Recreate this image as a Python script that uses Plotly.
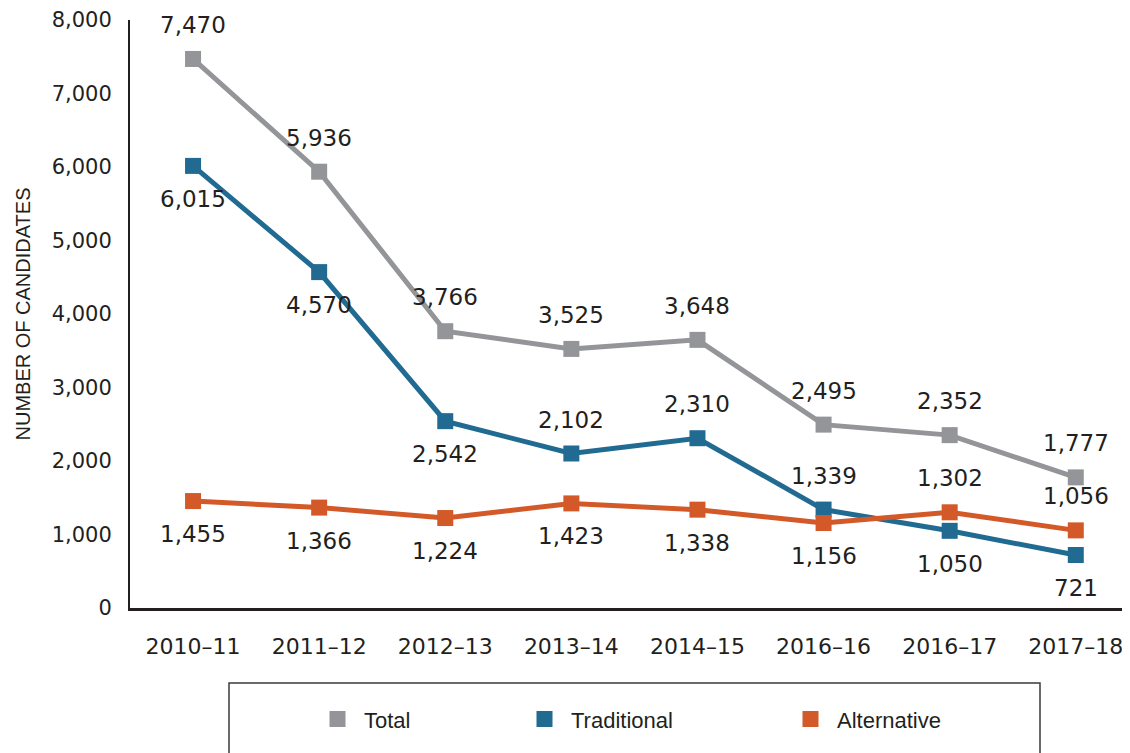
import plotly.graph_objects as go

years = ["2010–11", "2011–12", "2012–13", "2013–14", "2014–15", "2016–16", "2016–17", "2017–18"]
total = [7470, 5936, 3766, 3525, 3648, 2495, 2352, 1777]
traditional = [6015, 4570, 2542, 2102, 2310, 1339, 1050, 721]
alternative = [1455, 1366, 1224, 1423, 1338, 1156, 1302, 1056]

# label placement: +1 above the point, -1 below
total_pos = [1, 1, 1, 1, 1, 1, 1, 1]
trad_pos = [-1, -1, -1, 1, 1, 1, -1, -1]
alt_pos = [-1, -1, -1, -1, -1, -1, 1, 1]

GRAY = "#939598"
BLUE = "#216a92"
ORANGE = "#d35a28"
TXT = "#231f20"

series = [
    ("Total", total, total_pos, GRAY, "legend"),
    ("Traditional", traditional, trad_pos, BLUE, "legend2"),
    ("Alternative", alternative, alt_pos, ORANGE, "legend3"),
]

fig = go.Figure()
annotations = []
for name, vals, pos, color, leg in series:
    fig.add_trace(go.Scatter(
        x=years, y=vals, mode="lines+markers", name=name, showlegend=False,
        line=dict(color=color, width=5),
        marker=dict(symbol="square", size=16, color=color, line=dict(width=0)),
        hoverinfo="x+y",
    ))
    fig.add_trace(go.Scatter(
        x=[None], y=[None], mode="markers", name=name, legend=leg, showlegend=True,
        marker=dict(symbol="square", size=16, color=color, line=dict(width=0)),
    ))
    for x, v, p in zip(years, vals, pos):
        annotations.append(dict(
            x=x, y=v, xref="x", yref="y", text=f"{v:,}", showarrow=False,
            yshift=34 if p > 0 else -33,
            font=dict(family="DejaVu Sans", size=23, color=TXT),
        ))

# page body has an 8px margin, so the figure is 8px smaller than the window
fig.update_layout(
    width=1122, height=745,
    margin=dict(l=122, r=0, t=12, b=145),
    paper_bgcolor="white", plot_bgcolor="white",
    font=dict(family="DejaVu Sans", color=TXT),
    annotations=annotations,
    xaxis=dict(
        type="category", range=[-0.5, 7.43], showgrid=False, zeroline=False,
        showline=True, linecolor=TXT, linewidth=3,
        ticks="outside", ticklen=17, tickcolor="rgba(0,0,0,0)",
        tickfont=dict(family="DejaVu Sans", size=22, color=TXT),
    ),
    yaxis=dict(
        range=[0, 8000], dtick=1000, tickformat=",", showgrid=False, zeroline=False,
        showline=True, linecolor=TXT, linewidth=2,
        ticks="outside", ticklen=12, tickcolor="rgba(0,0,0,0)",
        tickfont=dict(family="DejaVu Sans", size=21, color=TXT),
        title=dict(text="NUMBER OF CANDIDATES", standoff=16,
                   font=dict(family="Liberation Sans", size=20, color=TXT)),
    ),
    shapes=[dict(
        type="rect", xref="paper", yref="paper",
        x0=0.099, x1=0.910, y0=-0.1276, y1=-0.30,
        line=dict(color="#3a3a3a", width=1.5), fillcolor="rgba(0,0,0,0)",
    )],
)

legend_common = dict(
    orientation="h", yanchor="middle", xanchor="left", y=-0.189,
    bgcolor="rgba(0,0,0,0)", borderwidth=0, itemwidth=43,
    font=dict(family="Liberation Sans", size=22, color=TXT),
)
fig.update_layout(
    legend=dict(x=0.181, **legend_common),
    legend2=dict(x=0.388, **legend_common),
    legend3=dict(x=0.654, **legend_common),
)

fig.write_html("out.html")
